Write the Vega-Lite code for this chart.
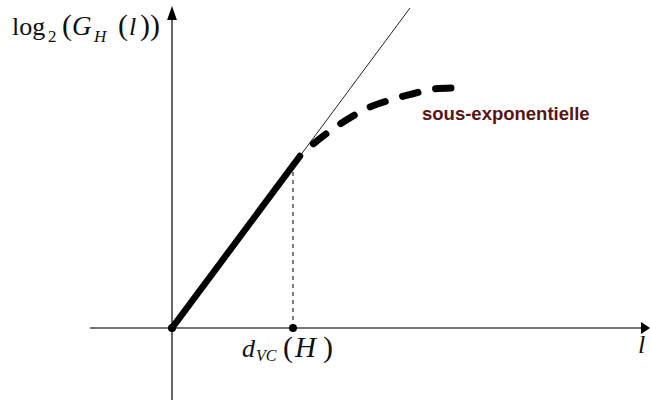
{
  "$schema": "https://vega.github.io/schema/vega-lite/v6.json",
  "width": 650,
  "height": 410,
  "autosize": {"type": "fit", "contains": "padding"},
  "padding": 0,
  "background": "white",
  "config": {"view": {"stroke": null}},
  "datasets": {
    "haxis": [{"x": -82, "y": 0, "x2": 470, "y2": 0}],
    "vaxis": [{"x": 0, "y": -72, "x2": 0, "y2": 316}],
    "thin": [{"x": 128, "y": 172}, {"x": 238, "y": 320}],
    "thick": [{"x": 0, "y": 0}, {"x": 128, "y": 172}],
    "curve": [
      {"x": 128, "y": 172}, {"x": 140, "y": 183}, {"x": 158, "y": 197},
      {"x": 176, "y": 209}, {"x": 198, "y": 221}, {"x": 218, "y": 228},
      {"x": 240, "y": 234}, {"x": 261, "y": 239}, {"x": 279, "y": 240}
    ],
    "vdash": [{"x": 121, "y": 0, "x2": 121, "y2": 157}],
    "dots": [{"x": 0, "y": 0}, {"x": 121, "y": 0}],
    "harrow": [{"x": 473.5, "y": 0}],
    "varrow": [{"x": 0, "y": 315}],
    "upright": [
      {"x": -160, "y": 293, "t": "log", "s": 26},
      {"x": -124, "y": 286, "t": "2", "s": 17},
      {"x": -110, "y": 293, "t": "(", "s": 30},
      {"x": -54, "y": 293, "t": "(", "s": 30},
      {"x": -32, "y": 293, "t": "))", "s": 30},
      {"x": 111, "y": -29, "t": "(", "s": 30},
      {"x": 151, "y": -29, "t": ")", "s": 30}
    ],
    "italic": [
      {"x": -100, "y": 293, "t": "G", "s": 27},
      {"x": -78, "y": 286, "t": "H", "s": 17},
      {"x": -43, "y": 293, "t": "l", "s": 26},
      {"x": 70, "y": -29, "t": "d", "s": 26},
      {"x": 84, "y": -33, "t": "VC", "s": 16},
      {"x": 123, "y": -29, "t": "H", "s": 29},
      {"x": 466, "y": -25, "t": "l", "s": 26}
    ],
    "note": [{"x": 250, "y": 208, "t": "sous-exponentielle", "s": 18.5}]
  },
  "encoding": {
    "x": {"field": "x", "type": "quantitative", "scale": {"domain": [-172, 478], "nice": false, "zero": false}, "axis": null},
    "y": {"field": "y", "type": "quantitative", "scale": {"domain": [-82, 328], "nice": false, "zero": false}, "axis": null}
  },
  "layer": [
    {
      "data": {"name": "haxis"},
      "mark": {"type": "rule", "color": "#444444", "strokeWidth": 1.6},
      "encoding": {"x2": {"field": "x2"}, "y2": {"field": "y2"}}
    },
    {
      "data": {"name": "vaxis"},
      "mark": {"type": "rule", "color": "#000000", "strokeWidth": 1.2},
      "encoding": {"x2": {"field": "x2"}, "y2": {"field": "y2"}}
    },
    {
      "data": {"name": "thin"},
      "mark": {"type": "line", "color": "#222222", "strokeWidth": 1}
    },
    {
      "data": {"name": "thick"},
      "mark": {"type": "line", "color": "#000000", "strokeWidth": 6.5, "strokeCap": "round"}
    },
    {
      "data": {"name": "curve"},
      "mark": {"type": "line", "color": "#000000", "strokeWidth": 7, "strokeCap": "round", "interpolate": "monotone", "strokeDash": [16, 18], "strokeDashOffset": 16}
    },
    {
      "data": {"name": "vdash"},
      "mark": {"type": "rule", "color": "#000000", "strokeWidth": 1, "strokeDash": [4, 4]},
      "encoding": {"x2": {"field": "x2"}, "y2": {"field": "y2"}}
    },
    {
      "data": {"name": "dots"},
      "mark": {"type": "point", "shape": "circle", "filled": true, "color": "#000000", "size": 64, "opacity": 1}
    },
    {
      "data": {"name": "harrow"},
      "mark": {"type": "point", "shape": "M-0.75,-1L0.75,0L-0.75,1Z", "filled": true, "color": "#000000", "size": 144, "opacity": 1}
    },
    {
      "data": {"name": "varrow"},
      "mark": {"type": "point", "shape": "M-0.7,1L0,-1L0.7,1Z", "filled": true, "color": "#000000", "size": 196, "opacity": 1}
    },
    {
      "data": {"name": "upright"},
      "mark": {"type": "text", "font": "Liberation Serif", "align": "left", "baseline": "alphabetic", "color": "#111111"},
      "encoding": {"text": {"field": "t"}, "size": {"field": "s", "type": "quantitative", "scale": null}}
    },
    {
      "data": {"name": "italic"},
      "mark": {"type": "text", "font": "Liberation Serif", "fontStyle": "italic", "align": "left", "baseline": "alphabetic", "color": "#111111"},
      "encoding": {"text": {"field": "t"}, "size": {"field": "s", "type": "quantitative", "scale": null}}
    },
    {
      "data": {"name": "note"},
      "mark": {"type": "text", "font": "Liberation Sans", "fontWeight": "bold", "align": "left", "baseline": "alphabetic", "color": "#5a1414"},
      "encoding": {"text": {"field": "t"}, "size": {"field": "s", "type": "quantitative", "scale": null}}
    }
  ]
}
